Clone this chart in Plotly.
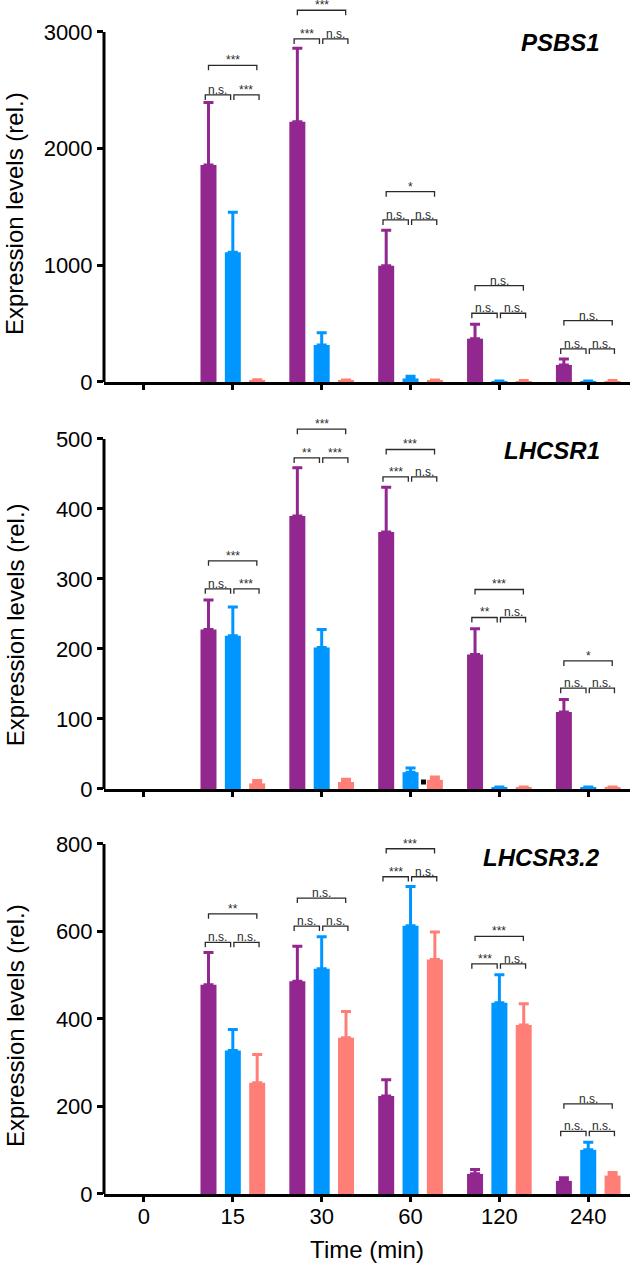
import plotly.graph_objects as go

times = ["0", "15", "30", "60", "120", "240"]
colors = ["#92278F", "#0096FF", "#FF7F77"]
genes = ["PSBS1", "LHCSR1", "LHCSR3.2"]

# PSBS1
psbs1_a = [None, 1860, 2231, 997, 371, 146]
psbs1_a_err = [None, 535, 630, 303, 123, 51]
psbs1_b = [None, 1111, 317, 30, 6, 6]
psbs1_b_err = [None, 343, 105, 20, 3, 3]
psbs1_c = [None, 15, 12, 12, 8, 8]
psbs1_c_err = [None, 5, 5, 5, 4, 4]
psbs1_low = [None, 2460, 2940, 1389, 589, 283]
psbs1_top = [None, 2714, 3186, 1631, 825, 526]
psbs1_lab_left = [None, "n.s.", "***", "n.s.", "n.s.", "n.s."]
psbs1_lab_right = [None, "***", "n.s.", "n.s.", "n.s.", "n.s."]
psbs1_lab_top = [None, "***", "***", "*", "n.s.", "n.s."]

# LHCSR1
lhcsr1_a = [None, 228, 390, 367, 192, 110]
lhcsr1_a_err = [None, 42, 69, 64, 37, 18]
lhcsr1_b = [None, 219, 202, 24, 2, 2]
lhcsr1_b_err = [None, 41, 26, 6, 1, 1]
lhcsr1_c = [None, 8, 10, 13, 2, 2]
lhcsr1_c_err = [None, 4, 4, 4, 1, 1]
lhcsr1_low = [None, 286, 473, 446, 245, 144]
lhcsr1_top = [None, 326, 514, 485, 285, 183]
lhcsr1_lab_left = [None, "n.s.", "**", "***", "**", "n.s."]
lhcsr1_lab_right = [None, "***", "***", "n.s.", "n.s.", "n.s."]
lhcsr1_lab_top = [None, "***", "***", "***", "***", "*"]
lhcsr1_dot_x = [3.146]
lhcsr1_dot_y = [10]

# LHCSR3.2
lhcsr3_a = [None, 478, 486, 224, 46, 30]
lhcsr3_a_err = [None, 74, 80, 37, 10, 7]
lhcsr3_b = [None, 328, 515, 613, 437, 101]
lhcsr3_b_err = [None, 48, 73, 90, 64, 17]
lhcsr3_c = [None, 254, 357, 536, 386, 42]
lhcsr3_c_err = [None, 65, 60, 63, 49, 7]
lhcsr3_low = [None, 575, 612, 725, 526, 143]
lhcsr3_top = [None, 640, 676, 789, 589, 206]
lhcsr3_lab_left = [None, "n.s.", "n.s.", "***", "***", "n.s."]
lhcsr3_lab_right = [None, "n.s.", "n.s.", "n.s.", "n.s.", "n.s."]
lhcsr3_lab_top = [None, "**", "n.s.", "***", "***", "n.s."]

panels = [
    dict(series=[(psbs1_a, psbs1_a_err), (psbs1_b, psbs1_b_err), (psbs1_c, psbs1_c_err)],
         low=psbs1_low, top=psbs1_top,
         labs=(psbs1_lab_left, psbs1_lab_right, psbs1_lab_top),
         yrange=[0, 3274], ymax=3000, ticks=[0, 1000, 2000, 3000],
         domain=[0.6801, 1.0], gene_y=2906, title_y=0.8208),
    dict(series=[(lhcsr1_a, lhcsr1_a_err), (lhcsr1_b, lhcsr1_b_err), (lhcsr1_c, lhcsr1_c_err)],
         low=lhcsr1_low, top=lhcsr1_top,
         labs=(lhcsr1_lab_left, lhcsr1_lab_right, lhcsr1_lab_top),
         yrange=[0, 541.4], ymax=500, ticks=[0, 100, 200, 300, 400, 500],
         domain=[0.3392, 0.6566], gene_y=484, title_y=0.4765),
    dict(series=[(lhcsr3_a, lhcsr3_a_err), (lhcsr3_b, lhcsr3_b_err), (lhcsr3_c, lhcsr3_c_err)],
         low=lhcsr3_low, top=lhcsr3_top,
         labs=(lhcsr3_lab_left, lhcsr3_lab_right, lhcsr3_lab_top),
         yrange=[0, 832], ymax=800, ticks=[0, 200, 400, 600, 800],
         domain=[0.0, 0.3049], gene_y=769, title_y=0.1407),
]

pos = list(range(len(times)))
FONT = "Liberation Sans, Arial, sans-serif"
INK = "#2a2a2a"

fig = go.Figure()
annotations = []
shapes = []

for k, p in enumerate(panels):
    n = k + 1
    xa = "x" if n == 1 else f"x{n}"
    ya = "y" if n == 1 else f"y{n}"

    for s, (vals, errs) in enumerate(p["series"]):
        fig.add_trace(
            go.Bar(
                x=pos,
                y=vals,
                marker=dict(color=colors[s], line=dict(width=0)),
                error_y=dict(
                    type="data",
                    symmetric=False,
                    array=errs,
                    arrayminus=[0] * len(errs),
                    color=colors[s],
                    thickness=3,
                    width=5,
                ),
                offsetgroup=str(s),
                xaxis=xa,
                yaxis=ya,
                showlegend=False,
            )
        )

    # significance brackets
    drop = (p["yrange"][1] - p["yrange"][0]) * 5 / 380
    bx, by = [], []
    lab_left, lab_right, lab_top = p["labs"]
    for i in pos:
        if p["low"][i] is None:
            continue
        yl, yt = p["low"][i], p["top"][i]
        for x0, x1, yy, txt in [
            (i - 0.31, i - 0.025, yl, lab_left[i]),
            (i + 0.012, i + 0.295, yl, lab_right[i]),
            (i - 0.274, i + 0.27, yt, lab_top[i]),
        ]:
            bx += [x0, x0, x1, x1, None]
            by += [yy - drop, yy, yy, yy - drop, None]
            annotations.append(
                dict(
                    x=(x0 + x1) / 2,
                    y=yy,
                    xref=xa,
                    yref=ya,
                    text=txt,
                    showarrow=False,
                    yanchor="bottom",
                    yshift=-3,
                    borderpad=0,
                    font=dict(size=12, color=INK, family=FONT),
                )
            )
    fig.add_trace(
        go.Scatter(
            x=bx,
            y=by,
            mode="lines",
            line=dict(color=INK, width=1.3),
            xaxis=xa,
            yaxis=ya,
            showlegend=False,
            hoverinfo="skip",
        )
    )

    if n == 2:
        fig.add_trace(
            go.Scatter(
                x=lhcsr1_dot_x,
                y=lhcsr1_dot_y,
                mode="markers",
                marker=dict(symbol="square", size=5, color="black"),
                xaxis=xa,
                yaxis=ya,
                showlegend=False,
            )
        )

    # y axis line only up to the last tick
    shapes.append(
        dict(
            type="line",
            xref="paper",
            yref=ya,
            x0=0,
            x1=0,
            y0=0,
            y1=p["ymax"],
            line=dict(color="black", width=3),
        )
    )

    annotations.append(
        dict(
            x=0.947,
            y=p["gene_y"],
            xref="paper",
            yref=ya,
            text=f"<b><i>{genes[k]}</i></b>",
            showarrow=False,
            xanchor="right",
            yanchor="middle",
            font=dict(size=24, color="black", family=FONT),
        )
    )
    annotations.append(
        dict(
            x=-0.169,
            y=p["title_y"],
            xref="paper",
            yref="paper",
            text="Expression levels (rel.)",
            textangle=-90,
            showarrow=False,
            xanchor="center",
            yanchor="middle",
            font=dict(size=24, color="black", family=FONT),
        )
    )

    xaxis = dict(
        domain=[0, 1],
        anchor=ya,
        range=[-0.45, 5.47],
        tickvals=pos,
        ticktext=times,
        showticklabels=(n == 3),
        showline=True,
        linewidth=3,
        linecolor="black",
        ticks="outside",
        ticklen=5,
        tickwidth=3,
        tickcolor="black",
        showgrid=False,
        zeroline=False,
        tickfont=dict(size=22, color="black", family=FONT),
    )
    if n == 3:
        xaxis["ticklabelstandoff"] = -4
        xaxis["title"] = dict(text="Time (min)", font=dict(size=24, color="black", family=FONT))
    yaxis = dict(
        domain=p["domain"],
        anchor=xa,
        range=p["yrange"],
        tickvals=p["ticks"],
        showline=False,
        ticks="outside",
        ticklen=6,
        tickwidth=3,
        tickcolor="black",
        showgrid=False,
        zeroline=False,
        tickfont=dict(size=22, color="black", family=FONT),
    )
    fig.update_layout({f"xaxis{'' if n == 1 else n}": xaxis, f"yaxis{'' if n == 1 else n}": yaxis})

fig.update_layout(
    width=633,
    height=1263,
    margin=dict(l=104, r=3, t=0, b=69),
    barmode="group",
    bargap=0.178,
    bargroupgap=0.343,
    plot_bgcolor="white",
    paper_bgcolor="white",
    font=dict(family=FONT, color="black"),
    annotations=annotations,
    shapes=shapes,
)

# the page's default body margin would push the figure 8px in
fig.write_html(
    "out.html",
    config={"displayModeBar": False},
    post_script="document.body.style.margin='0';",
)
